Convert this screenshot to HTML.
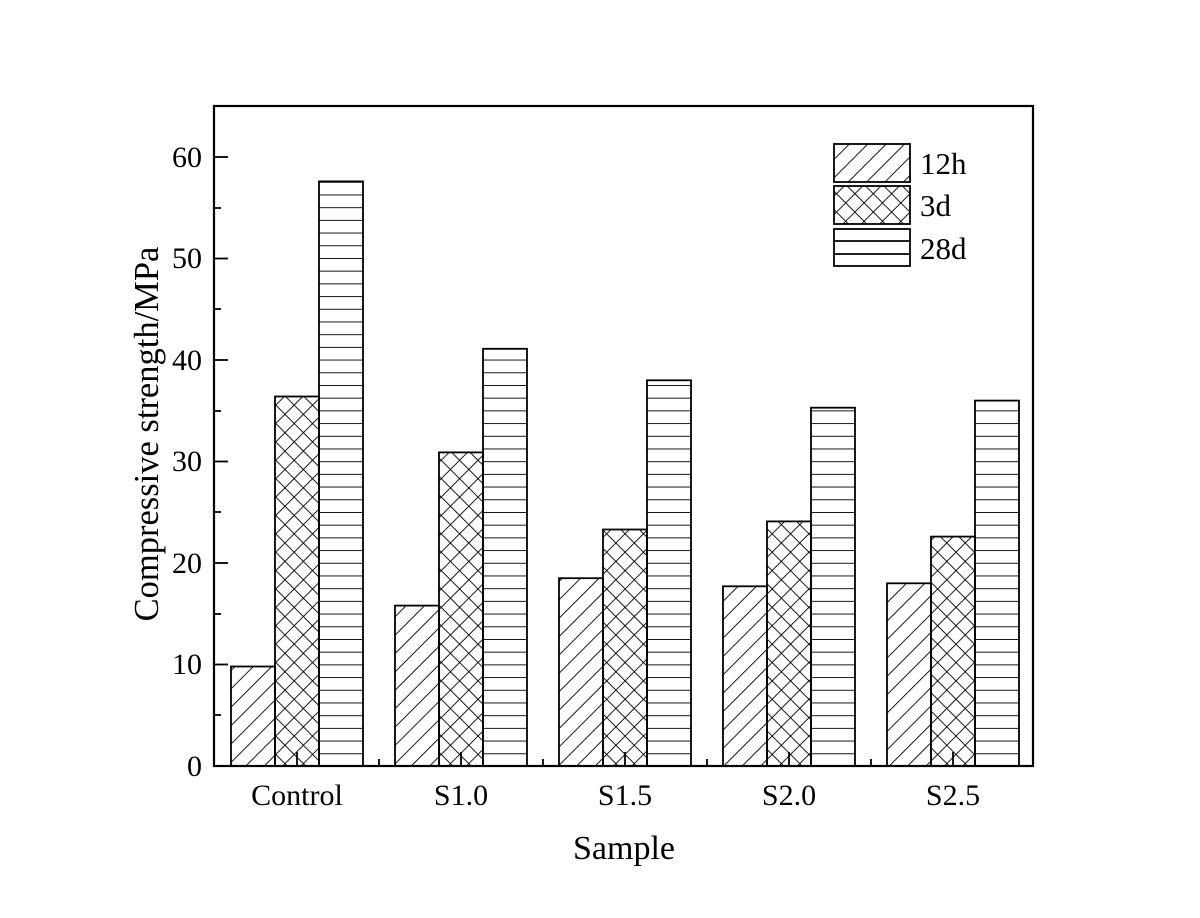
<!DOCTYPE html>
<html><head><style>body{margin:0;background:#fff}svg{display:block}</style></head><body>
<svg width="1200" height="918" xmlns="http://www.w3.org/2000/svg" font-family="Liberation Serif, serif">
<defs>
<pattern id="p1" patternUnits="userSpaceOnUse" width="13" height="13" patternTransform="rotate(45)">
<line x1="0" y1="0" x2="0" y2="13" stroke="#000" stroke-width="1.8"/></pattern>
<pattern id="p2" patternUnits="userSpaceOnUse" width="13" height="13" patternTransform="rotate(45)">
<line x1="0" y1="0" x2="0" y2="13" stroke="#000" stroke-width="1.8"/><line x1="0" y1="0" x2="13" y2="0" stroke="#000" stroke-width="1.8"/></pattern>
<pattern id="p3" patternUnits="userSpaceOnUse" width="13" height="12.7" y="766">
<line x1="0" y1="0" x2="13" y2="0" stroke="#000" stroke-width="1.8"/></pattern>
</defs>
<g stroke="#000" stroke-width="1.8">
<rect x="231" y="666.5" width="44" height="99.5" fill="url(#p1)"/>
<rect x="275" y="396.5" width="44" height="369.5" fill="url(#p2)"/>
<rect x="319" y="181.4" width="44" height="584.6" fill="url(#p3)"/>
<rect x="395" y="605.6" width="44" height="160.4" fill="url(#p1)"/>
<rect x="439" y="452.4" width="44" height="313.6" fill="url(#p2)"/>
<rect x="483" y="348.8" width="44" height="417.2" fill="url(#p3)"/>
<rect x="559" y="578.2" width="44" height="187.8" fill="url(#p1)"/>
<rect x="603" y="529.5" width="44" height="236.5" fill="url(#p2)"/>
<rect x="647" y="380.3" width="44" height="385.7" fill="url(#p3)"/>
<rect x="723" y="586.3" width="44" height="179.7" fill="url(#p1)"/>
<rect x="767" y="521.4" width="44" height="244.6" fill="url(#p2)"/>
<rect x="811" y="407.7" width="44" height="358.3" fill="url(#p3)"/>
<rect x="887" y="583.3" width="44" height="182.7" fill="url(#p1)"/>
<rect x="931" y="536.6" width="44" height="229.4" fill="url(#p2)"/>
<rect x="975" y="400.6" width="44" height="365.4" fill="url(#p3)"/>
</g>
<rect x="214" y="106" width="819" height="660" fill="none" stroke="#000" stroke-width="2.2"/>
<g stroke="#000" stroke-width="1.8">
<line x1="214" y1="766" x2="228" y2="766"/><line x1="214" y1="664.5" x2="228" y2="664.5"/><line x1="214" y1="563" x2="228" y2="563"/><line x1="214" y1="461.5" x2="228" y2="461.5"/><line x1="214" y1="360" x2="228" y2="360"/><line x1="214" y1="258.5" x2="228" y2="258.5"/><line x1="214" y1="157" x2="228" y2="157"/>
<line x1="214" y1="715" x2="221" y2="715"/><line x1="214" y1="614" x2="221" y2="614"/><line x1="214" y1="512" x2="221" y2="512"/><line x1="214" y1="411" x2="221" y2="411"/><line x1="214" y1="309" x2="221" y2="309"/><line x1="214" y1="208" x2="221" y2="208"/><line x1="214" y1="106" x2="221" y2="106"/>
<line x1="297" y1="766" x2="297" y2="752"/><line x1="461" y1="766" x2="461" y2="752"/><line x1="625" y1="766" x2="625" y2="752"/><line x1="789" y1="766" x2="789" y2="752"/><line x1="953" y1="766" x2="953" y2="752"/>
<line x1="379" y1="766" x2="379" y2="759"/><line x1="543" y1="766" x2="543" y2="759"/><line x1="707" y1="766" x2="707" y2="759"/><line x1="871" y1="766" x2="871" y2="759"/>
</g>
<g font-size="30" text-anchor="end">
<text x="202" y="776">0</text><text x="202" y="674">10</text><text x="202" y="573">20</text><text x="202" y="471">30</text><text x="202" y="370">40</text><text x="202" y="268">50</text><text x="202" y="167">60</text>
</g>
<g font-size="30" text-anchor="middle">
<text x="297" y="805">Control</text><text x="461" y="805">S1.0</text><text x="625" y="805">S1.5</text><text x="789" y="805">S2.0</text><text x="953" y="805">S2.5</text>
</g>
<text x="624" y="859" font-size="34" text-anchor="middle">Sample</text>
<text transform="translate(158,434) rotate(-90)" font-size="34.5" text-anchor="middle">Compressive strength/MPa</text>
<g stroke="#000" stroke-width="1.8">
<rect x="834" y="144" width="76" height="38" fill="url(#p1)"/>
<rect x="834" y="186" width="76" height="38" fill="url(#p2)"/>
<rect x="834" y="229" width="76" height="37" fill="#fff"/>
<line x1="834" y1="241" x2="910" y2="241"/><line x1="834" y1="254" x2="910" y2="254"/>
</g>
<g font-size="31"><text x="920" y="174">12h</text><text x="920" y="216">3d</text><text x="920" y="259">28d</text></g>
</svg>
</body></html>
